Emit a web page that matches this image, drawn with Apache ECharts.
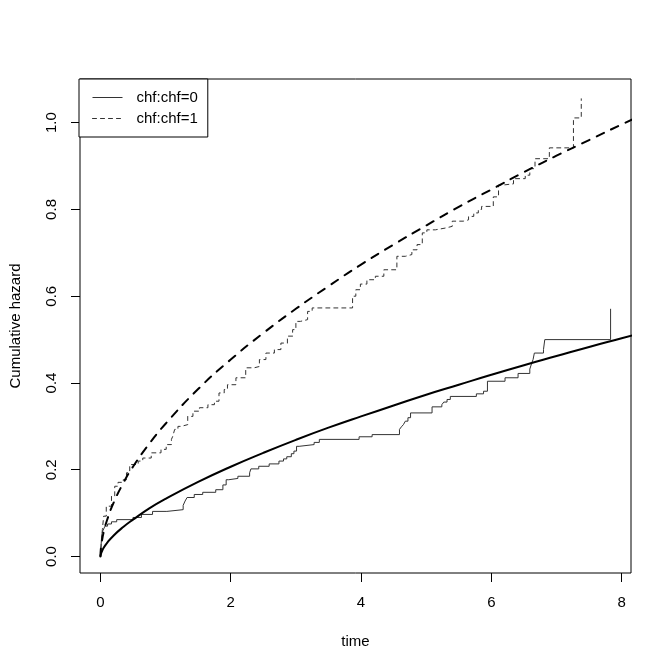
<!DOCTYPE html>
<html>
<head>
<meta charset="utf-8">
<script src="https://cdn.jsdelivr.net/npm/echarts@6/dist/echarts.min.js"></script>
<style>
html,body{margin:0;padding:0;background:#fff;}
#chart{width:672px;height:672px;}
</style>
</head>
<body>
<div id="chart"></div>
<script>
// Step curves (Nelson-Aalen style cumulative hazard)
const stepTimes0 = [0,0.01,0.02,0.04,0.07,0.11,0.17,0.25,0.50,0.63,0.80,1.02,1.27,1.30,1.33,1.44,1.57,1.77,1.88,1.93,1.97,2.11,2.29,2.31,2.43,2.59,2.74,2.81,2.86,2.93,2.97,3.01,3.05,3.28,3.36,3.97,4.17,4.59,4.62,4.65,4.68,4.72,4.76,5.09,5.24,5.27,5.32,5.37,5.77,5.88,5.94,6.21,6.41,6.59,6.62,6.64,6.66,6.80,6.82,7.83];
const stepHaz0   = [0,0.025,0.05,0.06,0.07,0.075,0.08,0.085,0.09,0.097,0.104,0.108,0.118,0.128,0.136,0.143,0.148,0.154,0.165,0.177,0.18,0.185,0.193,0.202,0.208,0.2135,0.22,0.225,0.23,0.237,0.243,0.254,0.258,0.263,0.27,0.276,0.281,0.293,0.299,0.304,0.312,0.320,0.331,0.345,0.350,0.356,0.362,0.369,0.375,0.381,0.404,0.412,0.422,0.432,0.446,0.454,0.469,0.477,0.50,0.571];

const stepTimes1 = [0,0.015,0.03,0.05,0.09,0.17,0.22,0.27,0.35,0.40,0.45,0.58,0.65,0.78,0.93,1.01,1.09,1.11,1.14,1.19,1.24,1.34,1.42,1.52,1.65,1.75,1.82,1.90,1.95,2.08,2.23,2.36,2.44,2.54,2.67,2.77,2.87,2.95,3.00,3.07,3.18,3.25,3.87,3.92,3.99,4.09,4.22,4.35,4.55,4.68,4.78,4.86,4.94,5.01,5.14,5.29,5.40,5.57,5.65,5.73,5.80,5.85,6.03,6.11,6.16,6.34,6.52,6.59,6.67,6.89,7.26,7.38];
const stepHaz1   = [0,0.035,0.062,0.093,0.116,0.139,0.162,0.171,0.177,0.193,0.212,0.22,0.227,0.239,0.247,0.258,0.27,0.277,0.293,0.30,0.304,0.323,0.335,0.343,0.35,0.358,0.377,0.385,0.396,0.412,0.435,0.438,0.454,0.469,0.477,0.492,0.508,0.523,0.542,0.546,0.565,0.573,0.60,0.615,0.628,0.638,0.646,0.661,0.692,0.696,0.707,0.719,0.746,0.753,0.757,0.761,0.773,0.776,0.784,0.792,0.80,0.807,0.829,0.856,0.859,0.871,0.879,0.894,0.917,0.942,1.011,1.055];

// Fitted parametric curves
const fitTimes = [0,0.01,0.02,0.05,0.1,0.2,0.35,0.5,0.75,1,1.5,2,2.5,3,3.5,4,4.5,5,5.5,6,6.5,7,7.5,8,8.2];
const fitHaz0  = [0,0.007,0.011,0.020,0.031,0.048,0.068,0.085,0.111,0.133,0.172,0.207,0.239,0.269,0.297,0.323,0.348,0.373,0.396,0.419,0.441,0.462,0.483,0.503,0.511];
const fitHaz1  = [0,0.023,0.033,0.056,0.083,0.123,0.169,0.207,0.260,0.306,0.386,0.454,0.515,0.571,0.623,0.673,0.719,0.763,0.806,0.846,0.886,0.924,0.960,0.996,1.010];

const xTicks = [0,2,4,6,8];
const yTicks = [0,0.2,0.4,0.6,0.8,1.0];
const legendNames = ['chf:chf=0','chf:chf=1'];

const zip = (a,b) => a.map((v,i) => [v,b[i]]);
const FONT = '"Liberation Sans", Arial, Helvetica, sans-serif';
const FS = 15;

const chart = echarts.init(document.getElementById('chart'), null, {renderer:'canvas'});
chart.setOption({
  animation:false,
  backgroundColor:'#fff',
  textStyle:{fontFamily:FONT, color:'#000'},
  grid:{left:79, right:41, top:79, bottom:99, show:true, borderColor:'#000', borderWidth:1, backgroundColor:'transparent'},
  legend:{
    data:legendNames, orient:'vertical', left:79, top:79,
    padding:[11,10,11,13], itemGap:6, itemWidth:30, itemHeight:15,
    backgroundColor:'#fff', borderColor:'#000', borderWidth:1, borderRadius:0,
    itemStyle:{opacity:0},
    lineStyle:{width:1},
    textStyle:{fontSize:FS, fontFamily:FONT, color:'#000', padding:[0,0,0,9]},
    selectedMode:false
  },
  xAxis:{
    type:'value', min:-0.3132, max:8.1432,
    name:'time', nameLocation:'middle', nameGap:61,
    nameTextStyle:{fontSize:FS, fontFamily:FONT, color:'#000'},
    axisLine:{show:false, onZero:false},
    splitLine:{show:false},
    axisTick:{show:true, inside:false, length:9, customValues:xTicks, lineStyle:{color:'#000'}},
    axisLabel:{show:true, margin:22, fontSize:FS, fontFamily:FONT, color:'#000', customValues:xTicks, formatter:v=>String(v)}
  },
  yAxis:{
    type:'value', min:-0.038, max:1.1007,
    name:'Cumulative hazard', nameLocation:'middle', nameGap:57, nameRotate:90,
    nameTextStyle:{fontSize:FS, fontFamily:FONT, color:'#000'},
    axisLine:{show:false, onZero:false},
    splitLine:{show:false},
    axisTick:{show:true, inside:false, length:9, customValues:yTicks, lineStyle:{color:'#000'}},
    axisLabel:{show:true, margin:21, rotate:90, fontSize:FS, fontFamily:FONT, color:'#000', customValues:yTicks, formatter:v=>v.toFixed(1)}
  },
  series:[
    {name:legendNames[0], type:'line', step:'end', symbol:'none', data:zip(stepTimes0, stepHaz0),
     lineStyle:{color:'#333', width:1, type:'solid'}, itemStyle:{color:'#333'}},
    {name:legendNames[1], type:'line', step:'end', symbol:'none', data:zip(stepTimes1, stepHaz1),
     lineStyle:{color:'#333', width:1, type:[4,4], cap:'round'}, itemStyle:{color:'#333'}},
    {name:'fit0', type:'line', symbol:'none', smooth:true, data:zip(fitTimes, fitHaz0),
     lineStyle:{color:'#000', width:2, type:'solid'}},
    {name:'fit1', type:'line', symbol:'none', smooth:true, data:zip(fitTimes, fitHaz1),
     lineStyle:{color:'#000', width:2, type:[8,8], cap:'round'}}
  ]
});
</script>
</body>
</html>
